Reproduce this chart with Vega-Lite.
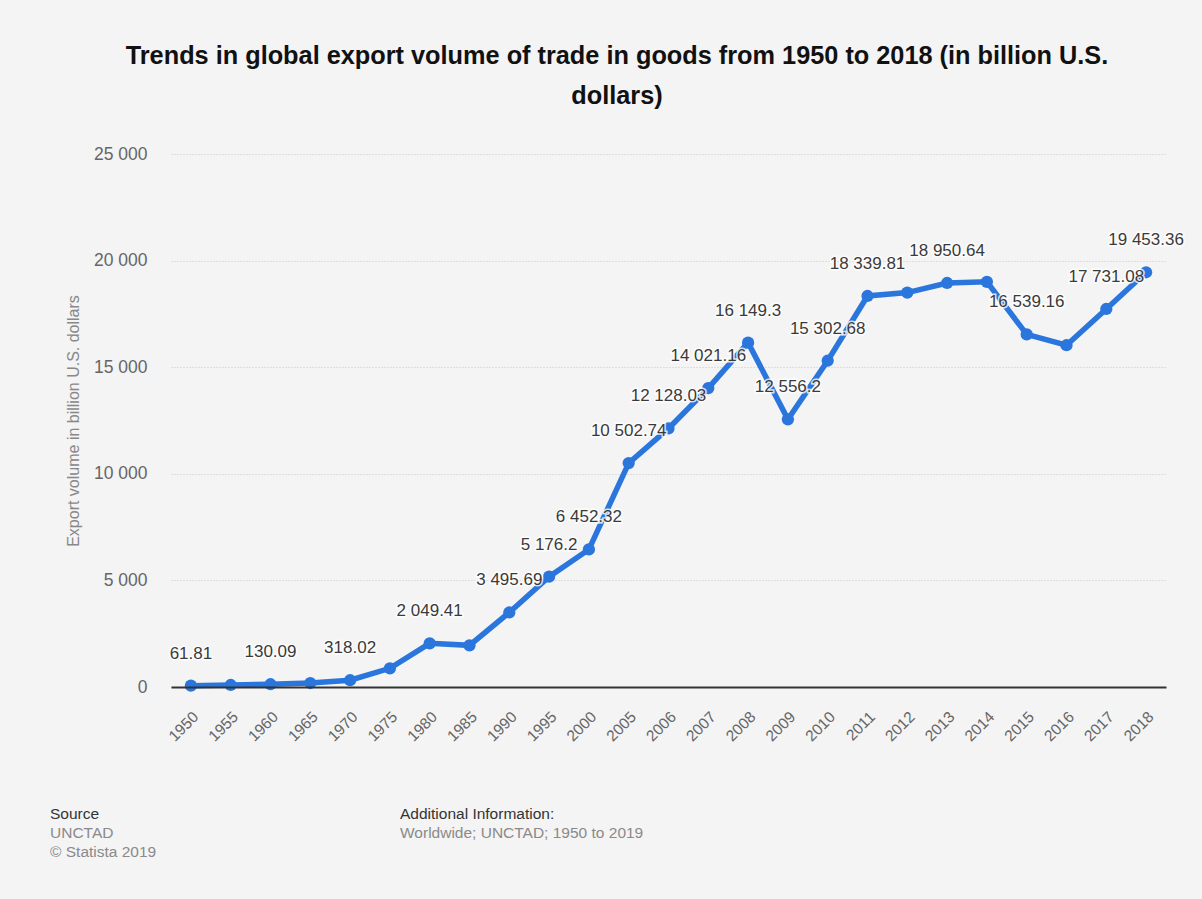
{
  "$schema": "https://vega.github.io/schema/vega-lite/v6.json",
  "background": "#f4f4f4",
  "padding": {"left": 50, "top": 43, "right": 18, "bottom": 40},
  "config": {
    "font": "Liberation Sans",
    "view": {"stroke": null}
  },
  "title": {
    "text": ["Trends in global export volume of trade in goods from 1950 to 2018 (in billion U.S.", "dollars)"],
    "fontSize": 25.3,
    "fontWeight": "bold",
    "color": "#111111",
    "lineHeight": 40,
    "anchor": "middle",
    "frame": "bounds",
    "offset": 36
  },
  "spacing": 62,
  "vconcat": [
    {
      "width": 995,
      "height": 533,
      "data": {
        "values": [
          {"year": "1950", "value": 61.81, "label": "61.81"},
          {"year": "1955", "value": 94, "label": ""},
          {"year": "1960", "value": 130.09, "label": "130.09"},
          {"year": "1965", "value": 187, "label": ""},
          {"year": "1970", "value": 318.02, "label": "318.02"},
          {"year": "1975", "value": 877, "label": ""},
          {"year": "1980", "value": 2049.41, "label": "2 049.41"},
          {"year": "1985", "value": 1953, "label": ""},
          {"year": "1990", "value": 3495.69, "label": "3 495.69"},
          {"year": "1995", "value": 5176.2, "label": "5 176.2"},
          {"year": "2000", "value": 6452.32, "label": "6 452.32"},
          {"year": "2005", "value": 10502.74, "label": "10 502.74"},
          {"year": "2006", "value": 12128.03, "label": "12 128.03"},
          {"year": "2007", "value": 14021.16, "label": "14 021.16"},
          {"year": "2008", "value": 16149.3, "label": "16 149.3"},
          {"year": "2009", "value": 12556.2, "label": "12 556.2"},
          {"year": "2010", "value": 15302.68, "label": "15 302.68"},
          {"year": "2011", "value": 18339.81, "label": "18 339.81"},
          {"year": "2012", "value": 18500, "label": ""},
          {"year": "2013", "value": 18950.64, "label": "18 950.64"},
          {"year": "2014", "value": 19005, "label": ""},
          {"year": "2015", "value": 16539.16, "label": "16 539.16"},
          {"year": "2016", "value": 16030, "label": ""},
          {"year": "2017", "value": 17731.08, "label": "17 731.08"},
          {"year": "2018", "value": 19453.36, "label": "19 453.36"}
        ]
      },
      "encoding": {
        "x": {
          "field": "year",
          "type": "ordinal",
          "scale": {"type": "band", "paddingInner": 0, "paddingOuter": 0},
          "axis": {
            "title": null,
            "labelAngle": -45,
            "labelFontSize": 15.5,
            "labelColor": "#666666",
            "labelPadding": 22,
            "ticks": false,
            "grid": false,
            "domain": true,
            "domainColor": "#333333",
            "domainWidth": 2
          }
        }
      },
      "layer": [
        {
          "mark": {"type": "rect", "fill": "#ffffff"},
          "encoding": {
            "y": {"datum": 25000, "type": "quantitative"},
            "y2": {"datum": 0},
            "fillOpacity": {
              "condition": {"test": "indexof(domain('x'), datum.year) % 2 == 1", "value": 0.55},
              "value": 0
            }
          }
        },
        {
          "mark": {"type": "line", "color": "#2a76dd", "strokeWidth": 5.5},
          "encoding": {
            "y": {
              "field": "value",
              "type": "quantitative",
              "scale": {"domain": [0, 25000], "nice": false},
              "axis": {
                "values": [0, 5000, 10000, 15000, 20000, 25000],
                "labelExpr": "replace(format(datum.value, ','), ',', ' ')",
                "grid": true,
                "gridColor": "#c8c8c8",
                "gridDash": [1, 2],
                "gridWidth": 1,
                "domain": false,
                "ticks": false,
                "labelFontSize": 17.5,
                "labelColor": "#666666",
                "labelPadding": 24,
                "title": "Export volume in billion U.S. dollars",
                "titleFontSize": 16,
                "titleFontWeight": "normal",
                "titleColor": "#888888",
                "titlePadding": 12
              }
            }
          }
        },
        {
          "mark": {"type": "point", "filled": true, "size": 150, "color": "#2a76dd", "opacity": 1},
          "encoding": {"y": {"field": "value", "type": "quantitative"}}
        },
        {
          "mark": {"type": "text", "dy": -32, "fontSize": 17, "stroke": "#ffffff", "strokeWidth": 3, "strokeOpacity": 0.8, "fill": "#ffffff"},
          "encoding": {"y": {"field": "value", "type": "quantitative"}, "text": {"field": "label"}}
        },
        {
          "mark": {"type": "text", "dy": -32, "fontSize": 17, "color": "#3a3a3a"},
          "encoding": {"y": {"field": "value", "type": "quantitative"}, "text": {"field": "label"}}
        }
      ]
    },
    {
      "width": 350,
      "height": 38,
      "data": {
        "values": [
          {"col": 0, "row": 0, "kind": "head", "text": "Source"},
          {"col": 0, "row": 1, "kind": "body", "text": "UNCTAD"},
          {"col": 0, "row": 2, "kind": "body", "text": "© Statista 2019"},
          {"col": 1, "row": 0, "kind": "head", "text": "Additional Information:"},
          {"col": 1, "row": 1, "kind": "body", "text": "Worldwide; UNCTAD; 1950 to 2019"}
        ]
      },
      "mark": {"type": "text", "align": "left", "baseline": "middle", "fontSize": 15.5},
      "encoding": {
        "x": {"field": "col", "type": "quantitative", "scale": {"domain": [0.3457, 1.3457]}, "axis": null},
        "y": {"field": "row", "type": "quantitative", "scale": {"domain": [0, 2], "reverse": true}, "axis": null},
        "text": {"field": "text"},
        "color": {"field": "kind", "type": "nominal", "scale": {"domain": ["head", "body"], "range": ["#333333", "#8a8a8a"]}, "legend": null}
      }
    }
  ]
}
